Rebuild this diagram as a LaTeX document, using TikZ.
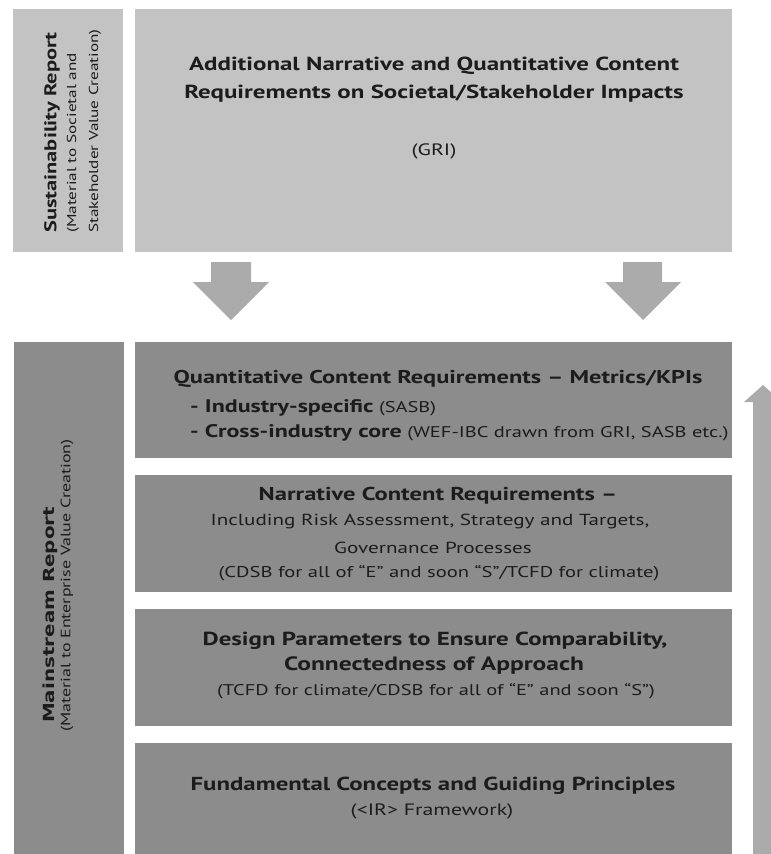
\documentclass[tikz,border=0pt]{standalone}
\usepackage{fontspec}
\setmainfont{PT Sans}[FakeStretch=1.32]
\newfontfamily\widesans{DejaVu Sans}[FakeStretch=1.3]
\definecolor{paleGrey}{HTML}{C3C3C3}
\definecolor{deepGrey}{HTML}{8C8C8C}
\definecolor{arrowGrey}{HTML}{ABABAB}
\definecolor{inkGrey}{HTML}{1C1C1C}
\newcommand{\fs}[1]{\fontsize{#1}{#1}\selectfont}
\newcommand{\keyterm}[1]{{\fs{18.2}\bfseries #1}}
\begin{document}
\begin{tikzpicture}[x=1pt,y=-1pt,
  panel/.style={draw=none, anchor=north west, inner sep=0pt},
  palepanel/.style={panel, fill=paleGrey},
  deeppanel/.style={panel, fill=deepGrey},
  txt/.style={text=inkGrey, inner sep=0pt, align=center},
  head/.style={txt, font=\fs{18.9}\bfseries},
  plain/.style={txt, font=\fs{16}},
  sidehead/.style={txt, rotate=90, anchor=west, font=\fs{17}\bfseries},
  sidenote/.style={txt, rotate=90, anchor=west, font=\fs{13}},
  blockarrow/.style={fill=arrowGrey, draw=none}
]
\useasboundingbox (0,0) rectangle (771,854);
\clip (0,0) rectangle (771,854);

% upper tier: sustainability report
\node[palepanel, minimum width=110pt, minimum height=243pt] (sr) at (13,9) {};
\node[palepanel, minimum width=597pt, minimum height=243pt] (srbody) at (135,9) {};

\node[sidehead] (srtitle) at (52,233) {Sustainability Report};
\node[sidenote] (srnote1) at (73,233) {(Material to Societal and};
\node[sidenote] (srnote2) at (95,233) {Stakeholder Value Creation)};

\node[head] (srline1) at (434,66) {Additional Narrative and Quantitative Content};
\node[head] (srline2) at (434,94) {Requirements on Societal/Stakeholder Impacts};
\node[plain, font=\fs{16.5}] (gri) at (434,151) {(GRI)};

% downward block arrows between the tiers
\fill[blockarrow] (211,262) -- (251,262) -- (251,282) -- (269,282) -- (231,320)
  -- (193,282) -- (211,282) -- cycle;
\fill[blockarrow] (623,262) -- (662,262) -- (662,282) -- (681,282) -- (643,320)
  -- (605,282) -- (623,282) -- cycle;

% lower tier: mainstream report
\node[deeppanel, minimum width=110pt, minimum height=520pt] (mr) at (14,342) {};
\node[sidehead, font=\widesans\fs{15.3}\bfseries] (mrtitle) at (50,723) {Mainstream Report};
\node[sidenote, font=\fs{13.6}] (mrnote) at (67,732) {(Material to Enterprise Value Creation)};

\node[deeppanel, minimum width=597pt, minimum height=116pt] (kpi) at (135,342) {};
\node[deeppanel, minimum width=597pt, minimum height=117pt] (narr) at (135,475) {};
\node[deeppanel, minimum width=597pt, minimum height=117pt] (design) at (135,609) {};
\node[deeppanel, minimum width=597pt, minimum height=120pt] (fund) at (135,743) {};

\node[head, font=\fs{18.5}\bfseries] (kpititle) at (438,379) {Quantitative Content Requirements -- Metrics/KPIs};
\node[plain, anchor=west, font=\fs{15.5}] (kpiitem1) at (190,407.5) {\keyterm{- Industry-specific} (SASB)};
\node[plain, anchor=west, font=\fs{15.5}] (kpiitem2) at (190,433) {\keyterm{- Cross-industry core} (WEF-IBC drawn from GRI, SASB etc.)};

\node[head, font=\fs{18.6}\bfseries] (narrtitle) at (438,496) {Narrative Content Requirements --};
\node[plain] (narrline1) at (430,521) {Including Risk Assessment, Strategy and Targets,};
\node[plain] (narrline2) at (433,548) {Governance Processes};
\node[plain, font=\fs{15.6}] (narrline3) at (439,573) {(CDSB for all of “E” and soon “S”/TCFD for climate)};

\node[head] (designline1) at (435,641) {Design Parameters to Ensure Comparability,};
\node[head, font=\fs{19.3}\bfseries] (designline2) at (434,666) {Connectedness of Approach};
\node[plain, font=\fs{15.5}] (designline3) at (436,691) {(TCFD for climate/CDSB for all of “E” and soon “S”)};

\node[head, font=\fs{18.8}\bfseries] (fundtitle) at (433,786) {Fundamental Concepts and Guiding Principles};
\node[plain, font=\fs{16.5}] (fundnote) at (432,811) {(<IR> Framework)};

% upward block arrow on the right edge
\fill[blockarrow] (753,854) -- (753,402) -- (744,402) -- (763,385) -- (782,402)
  -- (773,402) -- (773,854) -- cycle;
\end{tikzpicture}
\end{document}
